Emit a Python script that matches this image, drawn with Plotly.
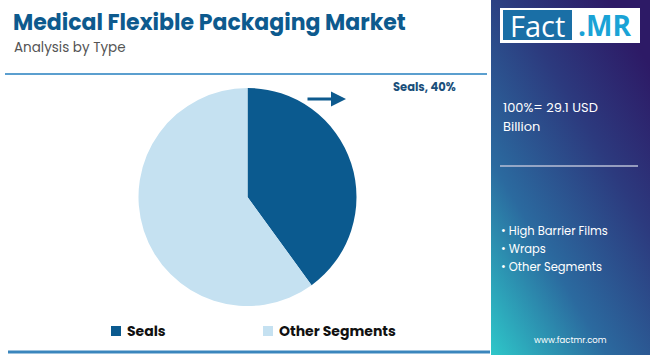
import base64
import plotly.graph_objects as go

categories = ["Seals", "Other Segments"]
shares = [40, 60]
slice_colors = ["#0b5a8f", "#c5e1f1"]
title_text = "Medical Flexible Packaging Market"
subtitle_text = "Analysis by Type"
callout_text = "Seals, 40%"
total_text = ["100%= 29.1 USD", "Billion"]
other_types = ["High Barrier Films", "Wraps", "Other Segments"]
site_text = "www.factmr.com"

W, H = 650, 355


def px(x):
    return x / W


def py(y):
    return 1 - y / H


svg = (
    '<svg xmlns="http://www.w3.org/2000/svg" width="159" height="355" viewBox="0 0 159 355" preserveAspectRatio="none">'
    '<defs><linearGradient id="g" x1="0" y1="1" x2="0.75" y2="0">'
    '<stop offset="0" stop-color="#2ec7c9"/>'
    '<stop offset="0.35" stop-color="#2b6a9f"/>'
    '<stop offset="0.7" stop-color="#2c3a7e"/>'
    '<stop offset="1" stop-color="#2d1a66"/>'
    '</linearGradient></defs>'
    '<rect width="159" height="355" fill="url(#g)"/></svg>'
)
svg_uri = "data:image/svg+xml;base64," + base64.b64encode(svg.encode()).decode()

fig = go.Figure()
fig.add_trace(go.Pie(
    labels=categories,
    values=shares,
    marker=dict(colors=slice_colors, line=dict(width=0)),
    sort=False,
    direction="clockwise",
    rotation=0,
    textinfo="none",
    hoverinfo="label+percent",
    showlegend=False,
    domain=dict(x=[px(138), px(357)], y=[py(306), py(88)]),
))

font_main = "Poppins, 'Open Sans', sans-serif"

annotations = [
    dict(text=f"<b>{title_text}</b>", x=px(11), y=py(22), xanchor="left", yanchor="middle",
         font=dict(family=font_main, size=22, color="#0d5a8e")),
    dict(text=subtitle_text, x=px(12), y=py(47), xanchor="left", yanchor="middle",
         font=dict(family=font_main, size=13.5, color="#555555")),
    dict(text=f"<b>{callout_text}</b>", x=px(458), y=py(87), xanchor="right", yanchor="middle",
         font=dict(family=font_main, size=11.5, color="#1a4f7a")),
    dict(text="", x=px(346), y=py(99), ax=-40, ay=0, showarrow=True,
         arrowhead=2, arrowsize=1, arrowwidth=3, arrowcolor="#0d5a8e"),
    dict(text=total_text[0], x=px(501), y=py(107), xanchor="left", yanchor="middle",
         font=dict(family=font_main, size=13, color="white")),
    dict(text=total_text[1], x=px(501), y=py(127), xanchor="left", yanchor="middle",
         font=dict(family=font_main, size=13, color="white")),
    dict(text="Fact", x=px(537), y=py(25), xanchor="center", yanchor="middle",
         font=dict(family="'Open Sans', sans-serif", size=29, color="white")),
    dict(text="<b>.MR</b>", x=px(604), y=py(25), xanchor="center", yanchor="middle",
         font=dict(family="'Open Sans', sans-serif", size=28, color="#1aa3d6")),
    dict(text=site_text, x=px(570), y=py(340), xanchor="center", yanchor="middle",
         font=dict(family=font_main, size=8.5, color="white")),
]
for i, t in enumerate(other_types):
    annotations.append(dict(text="• " + t, x=px(499), y=py(231 + 18 * i), xanchor="left", yanchor="middle",
                            font=dict(family=font_main, size=11.5, color="white")))

shapes = [
    dict(type="line", xref="paper", yref="paper", x0=px(5), x1=px(487), y0=py(74), y1=py(74),
         line=dict(color="#5b9fcf", width=2)),
    dict(type="line", xref="paper", yref="paper", x0=px(8), x1=px(490), y0=py(352), y1=py(352),
         line=dict(color="#3a86bd", width=3)),
    dict(type="rect", xref="paper", yref="paper", x0=px(500), x1=px(640), y0=py(43), y1=py(8),
         fillcolor="white", line=dict(width=0)),
    dict(type="rect", xref="paper", yref="paper", x0=px(503), x1=px(572), y0=py(40), y1=py(10),
         fillcolor="#1a6fa6", line=dict(width=0)),
    dict(type="line", xref="paper", yref="paper", x0=px(500), x1=px(638), y0=py(166), y1=py(166),
         line=dict(color="#b8bfd6", width=1.5)),
]

# custom legend built from categories / colors
legend_x = [111, 263]
for cat, col, lx in zip(categories, slice_colors, legend_x):
    shapes.append(dict(type="rect", xref="paper", yref="paper", x0=px(lx), x1=px(lx + 10),
                       y0=py(336), y1=py(326), fillcolor=col, line=dict(width=0)))
    annotations.append(dict(text=f"<b>{cat}</b>", x=px(lx + 14), y=py(331), xanchor="left", yanchor="middle",
                            font=dict(family=font_main, size=14, color="#111111")))

for a in annotations:
    a.setdefault("showarrow", False)
    a["xref"] = "paper"
    a["yref"] = "paper"
    if "ax" in a:
        a["axref"] = "pixel"
        a["ayref"] = "pixel"

fig.update_layout(
    width=W, height=H,
    margin=dict(l=0, r=0, t=0, b=0),
    paper_bgcolor="white",
    plot_bgcolor="white",
    annotations=annotations,
    shapes=shapes,
    images=[dict(source=svg_uri, xref="paper", yref="paper", x=px(491), y=1,
                 sizex=px(159), sizey=1, sizing="stretch", xanchor="left", yanchor="top",
                 layer="below")],
    showlegend=False,
)

fig.write_html("out.html", config={"displayModeBar": False},
               post_script="document.body.style.margin='0';document.body.style.padding='0';")
